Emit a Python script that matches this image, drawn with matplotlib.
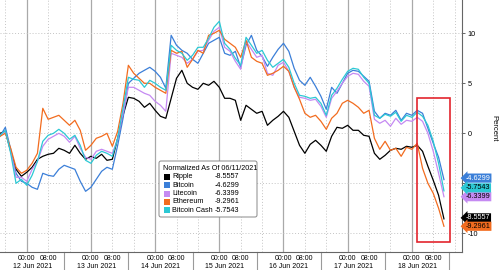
import matplotlib.pyplot as plt
import matplotlib.dates as mdates
import matplotlib.transforms as mtransforms
from matplotlib.patches import Rectangle, FancyBboxPatch
import pandas as pd

plt.rcParams['font.family'] = ['Liberation Sans', 'DejaVu Sans']

# 2-hourly readings, 11 Jun 14:00 -> 18 Jun 12:00 (percent, normalized as of 06/11)
times = pd.date_range('2021-06-11 14:00', periods=84, freq='2h')

ripple = [0.0, 0.2, -1.8, -3.6, -4.3, -3.9, -3.4, -2.6, -2.3, -2.1, -2.0, -1.5, -1.7, -2.0, -1.2,
          -2.0, -2.6, -2.3, -2.5, -2.1, -2.7, -2.6, -0.5, 1.8, 3.6, 3.5, 3.2, 2.6, 3.0,
          2.3, 1.7, 1.5, 3.5, 5.5, 6.3, 5.0, 4.6, 4.4, 5.0, 4.8, 5.2, 4.6, 3.5,
          3.5, 3.3, 1.3, 2.8, 2.4, 2.0, 2.2, 0.8, 1.3, 1.7, 2.2, 1.6, 0.2, -1.2,
          -2.0, -1.1, -0.7, -1.2, -1.8, -0.3, 0.6, 0.5, 0.8, 0.3, 0.3, -0.2, -0.3, -2.0,
          -2.6, -2.2, -1.7, -1.5, -1.6, -1.3, -1.4, -1.2, -1.8, -3.3, -4.7, -6.2, -8.5557]
bitcoin = [-0.3, 0.6, -1.6, -4.0, -4.8, -5.0, -5.4, -5.6, -4.0, -4.2, -4.3, -3.6, -3.2, -3.4, -3.6,
           -4.8, -5.8, -5.4, -4.6, -3.8, -3.4, -3.6, -1.2, 1.5, 5.0, 5.5, 6.0, 6.3, 6.6,
           6.2, 5.6, 4.5, 9.8, 8.8, 8.3, 8.0, 7.4, 7.0, 8.0, 9.0, 9.3, 9.6, 8.0,
           7.8, 8.2, 6.6, 8.8, 9.8, 8.3, 7.7, 6.7, 7.6, 8.4, 9.0, 8.2, 6.5, 5.3,
           4.8, 5.6, 4.7, 3.7, 2.4, 4.6, 4.0, 5.0, 6.0, 6.3, 6.2, 5.7, 5.2, 2.2,
           1.5, 2.0, 1.8, 2.3, 1.3, 2.0, 1.8, 2.3, 2.0, 0.5, -1.0, -2.4, -4.6299]
litecoin = [-0.2, 0.2, -1.8, -4.4, -4.4, -4.8, -3.6, -2.8, -1.3, -0.6, -0.3, 0.0, -0.3, -0.9, -0.3,
            -1.5, -2.4, -2.6, -1.8, -1.6, -1.8, -2.0, -0.6, 2.0, 4.6, 4.6, 4.3, 4.0, 3.8,
            3.2, 2.8, 2.2, 8.0, 7.8, 7.6, 7.0, 7.4, 8.2, 8.3, 9.3, 10.2, 10.6, 8.6,
            8.2, 7.2, 6.4, 9.2, 8.4, 7.6, 7.8, 6.0, 5.8, 6.8, 7.1, 6.2, 4.6, 3.6,
            3.5, 3.3, 3.4, 2.7, 1.6, 3.5, 4.2, 5.0, 5.7, 6.0, 5.9, 5.2, 4.7, 1.4,
            1.0, 1.3, 0.7, 1.5, 0.9, 1.3, 1.2, 1.6, 1.2, 0.0, -1.8, -4.0, -6.3399]
ethereum = [-0.3, 0.0, -1.5, -3.4, -4.0, -3.7, -3.0, -2.0, 2.5, 1.4, 1.6, 1.8, 1.3, 0.8, 1.3,
            0.3, -1.7, -1.2, -0.5, -0.3, 0.0, -1.3, 0.2, 3.0, 6.8, 6.0, 5.5, 5.0, 5.0,
            4.6, 4.3, 4.0, 8.3, 8.0, 8.2, 6.6, 7.4, 8.3, 8.0, 9.8, 10.0, 10.3, 9.4,
            9.0, 8.6, 7.6, 9.3, 7.6, 7.2, 7.0, 5.8, 6.0, 6.3, 6.7, 6.2, 4.6, 3.4,
            2.0, 1.6, 1.8, 1.2, 0.4, 1.5, 2.0, 3.0, 3.3, 3.0, 2.6, 2.0, 2.3, -0.5,
            -1.6, -0.8, -1.7, -1.5, -2.3, -1.4, -1.6, -1.0, -3.5, -5.0, -6.0, -7.5, -9.2961]
bitcoin_cash = [-0.2, 0.3, -2.0, -5.0, -4.6, -5.2, -4.2, -2.8, -0.8, -0.2, 0.0, 0.4, 0.0, -0.6, -0.2,
                -1.2, -2.7, -3.0, -2.2, -1.8, -2.0, -2.3, -0.5, 2.5, 5.6, 5.4, 5.3, 4.6, 5.3,
                5.0, 4.6, 4.3, 8.8, 8.3, 8.0, 7.3, 7.8, 8.6, 8.6, 9.5, 10.6, 11.2, 9.0,
                8.4, 7.5, 6.8, 9.6, 8.8, 8.0, 8.3, 7.3, 6.6, 7.0, 7.4, 6.6, 5.0, 3.8,
                3.7, 3.5, 3.6, 3.0, 1.8, 3.8, 4.5, 5.4, 6.2, 6.5, 6.4, 5.6, 5.0, 1.8,
                1.5, 1.9, 1.7, 2.1, 1.2, 1.8, 1.6, 2.1, 1.7, 0.8, -0.8, -3.0, -5.7543]

names = ['Ripple', 'Bitcoin', 'Litecoin', 'Ethereum', 'Bitcoin Cash']
series = [ripple, bitcoin, litecoin, ethereum, bitcoin_cash]
last_values = [-8.5557, -4.6299, -6.3399, -9.2961, -5.7543]
colors = ['#000000', '#3b7fd8', '#c58af2', '#f26c1f', '#2cc8d4']
label_text_colors = ['white', 'white', 'black', 'black', 'black']
label_nudge = [0.1, 0.15, 0.0, 0.0, 0.3]
draw_order = [1, 2, 4, 3, 0]

days = pd.date_range('2021-06-12', '2021-06-18', freq='D')
highlight = (pd.Timestamp('2021-06-18 01:50'), pd.Timestamp('2021-06-18 14:15'), -10.9, 3.5)

fig = plt.figure(figsize=(5, 2.7), dpi=100)
ax = fig.add_axes([0, 18 / 270, 462 / 500, 252 / 270])
pix = mtransforms.Affine2D().scale(1 / 500, -1 / 270).translate(0, 1) + fig.transFigure

# grid
for d in days:
    ax.axvline(d, color='#a9a9a9', lw=0.9, zorder=0)
for d in days.append(pd.DatetimeIndex([pd.Timestamp('2021-06-11')])):
    for h in (8, 16):
        ax.axvline(d + pd.Timedelta(hours=h), color='#c4c4c4', lw=0.7, ls=(0, (1, 2)), zorder=0)
for v in (-10, -5, 0, 5, 10):
    ax.axhline(v, color='#c4c4c4', lw=0.7, ls=(0, (1, 2)), zorder=0)

for k in draw_order:
    ax.plot(times, series[k], color=colors[k], lw=0.9, zorder=2 + k * 0.01)

x0, x1, y0, y1 = highlight
ax.add_patch(Rectangle((mdates.date2num(x0), y0), mdates.date2num(x1) - mdates.date2num(x0),
                       y1 - y0, fill=False, ec='#e3252d', lw=1.2, zorder=4))

ax.set_xlim(times[0], pd.Timestamp('2021-06-18 18:45'))
ax.set_ylim(-11.87, 13.33)

for s in ('left', 'top'):
    ax.spines[s].set_visible(False)
for s in ('right', 'bottom'):
    ax.spines[s].set_color('#666666')
    ax.spines[s].set_linewidth(0.8)

ax.yaxis.tick_right()
ax.set_yticks([-10, -5, 0, 5, 10])
ax.set_yticklabels(['-10', '', '0', '5', '10'])
ax.tick_params(axis='y', length=2.5, width=0.7, color='#666666', labelsize=5.2, pad=1.5)
ax.set_xticks([])

# bottom labels
xt = mtransforms.blended_transform_factory(ax.transData, pix)
for d in days:
    ax.text(d, 258, '00:00', transform=xt, ha='center', va='center', fontsize=5)
    ax.text(d + pd.Timedelta(hours=8), 258, '08:00', transform=xt, ha='center', va='center', fontsize=5)
    ax.text(d + pd.Timedelta(hours=2), 266, d.strftime('%d Jun %Y').lstrip('0'), transform=xt,
            ha='center', va='center', fontsize=5)
for d in days:
    sep = d + pd.Timedelta(hours=14)
    ax.plot([sep, sep], [252, 270], transform=xt, color='#9a9a9a', lw=0.8, clip_on=False)

fig.text(494, 128, 'Percent', transform=pix, rotation=270, ha='center', va='center', fontsize=5.5)

# last value tags
for k in range(5):
    ax.annotate(f'{last_values[k]:.4f}', xy=(1, last_values[k] + label_nudge[k]),
                xycoords=('axes fraction', 'data'), xytext=(2.5, 0), textcoords='offset points',
                ha='left', va='center', fontsize=5.2, color=label_text_colors[k], zorder=6,
                annotation_clip=False,
                bbox=dict(boxstyle='larrow,pad=0.15', fc=colors[k], ec='none'))

# legend box
fig.add_artist(FancyBboxPatch((159, 161), 98, 56, boxstyle='round,pad=0,rounding_size=2',
                              transform=pix, fc='white', ec='#888888', lw=0.7, zorder=5))
fig.text(163, 169, 'Normalized As Of 06/11/2021', transform=pix, ha='left', va='center',
         fontsize=5.2, zorder=6)
for k in range(5):
    yrow = 177 + k * 8.25
    fig.add_artist(Rectangle((164, yrow - 3), 6, 6, transform=pix, fc=colors[k], ec='none', zorder=6))
    fig.text(172, yrow, names[k], transform=pix, ha='left', va='center', fontsize=5.2, zorder=6)
    fig.text(215, yrow, f'{last_values[k]:.4f}', transform=pix, ha='left', va='center',
             fontsize=5.2, zorder=6)

fig.savefig('out.png', dpi=100)
